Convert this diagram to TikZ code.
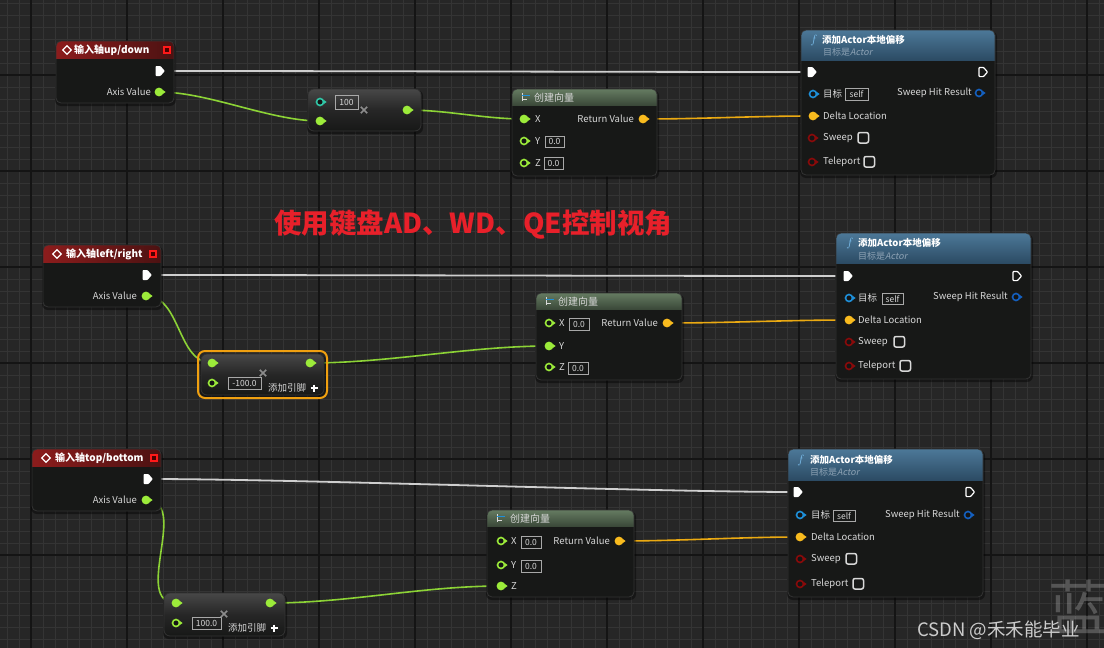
\documentclass[tikz,border=0pt]{standalone}
\usepackage{fontspec}
\setmainfont{Noto Sans CJK SC}
\newfontfamily\subfont{Noto Sans CJK SC}[AutoFakeSlant=0.2]
\usetikzlibrary{calc}
\definecolor{bg}{HTML}{262626}
\definecolor{gminorc}{HTML}{343434}
\definecolor{gmajorc}{HTML}{141414}
\definecolor{bodyc}{HTML}{171817}
\definecolor{lblc}{HTML}{D8D8D8}
\definecolor{fgreen}{HTML}{9CEB3A}
\definecolor{wgreen}{HTML}{8CD336}
\definecolor{tealc}{HTML}{30C8A8}
\definecolor{vyel}{HTML}{F9BB1E}
\definecolor{wyel}{HTML}{EBAA12}
\definecolor{objblue}{HTML}{1E90DA}
\definecolor{shrblue}{HTML}{1460C0}
\definecolor{boolred}{HTML}{8A0A0A}
\definecolor{execw}{HTML}{CFCFCF}
\definecolor{redheadA}{HTML}{8C1C1C}
\definecolor{redheadB}{HTML}{4C1212}
\definecolor{blueheadA}{HTML}{4C7898}
\definecolor{blueheadB}{HTML}{2C4B64}
\definecolor{greenheadA}{HTML}{657B61}
\definecolor{greenheadB}{HTML}{3B4939}
\definecolor{subc}{HTML}{8DA2B4}
\definecolor{boxc}{HTML}{A8A8A8}
\definecolor{titlered}{HTML}{E8202A}
\definecolor{selorange}{HTML}{F0A010}
\definecolor{fblue}{HTML}{7CC0EF}
\definecolor{pinbg}{HTML}{151515}
\tikzset{
  gminor/.style={gminorc, line width=1},
  gmajor/.style={gmajorc, line width=1.6},
  redhead/.style={left color=redheadA, right color=redheadB},
  bluehead/.style={top color=blueheadA, bottom color=blueheadB},
  greenhead/.style={top color=greenheadA, bottom color=greenheadB},
  lbl/.style={inner sep=0, text=lblc, font=\fontsize{9.5}{10}\selectfont},
  hdr/.style={inner sep=0, text=white, font=\bfseries\fontsize{10}{11}\selectfont},
  sub/.style={inner sep=0, text=subc, font=\fontsize{9}{10}\selectfont},
  val/.style={inner sep=0, text=lblc, font=\fontsize{8.5}{9}\selectfont},
  execwire/.style={execw, line width=1.8},
  greenwire/.style={wgreen, line width=1.6},
  yelwire/.style={wyel, line width=1.6},
}
\newcommand\BPnode[7]{%
  \fill[black,opacity=0.4,rounded corners=6] (#2-1,#3+1) rectangle (#4+2,#5+3);
  \node[inner sep=0, outer sep=0, minimum width=#4-#2, minimum height=#5-#3, anchor=north west, fill=bodyc, rounded corners=5] (#1) at (#2,#3) {};
  \begin{scope}\clip[rounded corners=5] (#2,#3) rectangle (#4,#5); \shade[#7] (#2,#3) rectangle (#4,#6); \end{scope}
  \draw[black!80, line width=0.8, rounded corners=5] (#2,#3) rectangle (#4,#5);
}
\newcommand\BPcompact[5]{%
  \fill[black,opacity=0.4,rounded corners=6] (#2-1,#3+1) rectangle (#4+2,#5+3);
  \node[inner sep=0, outer sep=0, minimum width=#4-#2, minimum height=#5-#3, anchor=north west, fill=bodyc, rounded corners=6] (#1) at (#2,#3) {};
  \shade[rounded corners=6, top color=black!72, bottom color=bodyc, middle color=black!85] (#2,#3) rectangle (#4,#5);
  \draw[black!80, line width=0.8, rounded corners=6] (#2,#3) rectangle (#4,#5);
}
\newcommand\BPpinF[2]{\begin{scope}[shift={(#1)}]
  \fill[#2] (0,0) circle (4.4);
  \fill[#2] (3.4,-2.3) -- (6.6,0) -- (3.4,2.3) -- cycle;
\end{scope}}
\newcommand\BPpinH[2]{\begin{scope}[shift={(#1)}]
  \fill[#2] (3.4,-2.3) -- (6.6,0) -- (3.4,2.3) -- cycle;
  \draw[#2, line width=1.6, fill=pinbg] (0,0) circle (3.5);
\end{scope}}
\newcommand\BPexecF[1]{\begin{scope}[shift={(#1)}]
  \fill[white, rounded corners=0.8] (-4.5,-5) -- (0.5,-5) -- (4.8,0) -- (0.5,5) -- (-4.5,5) -- cycle;
\end{scope}}
\newcommand\BPexecH[1]{\begin{scope}[shift={(#1)}]
  \draw[white, line width=1.2, rounded corners=0.8] (-4,-4.6) -- (0.5,-4.6) -- (4.5,0) -- (0.5,4.6) -- (-4,4.6) -- cycle;
\end{scope}}
\newcommand\BPbox[6]{%
  \draw[boxc, line width=0.7] (#2,#3) rectangle (#4,#5);
  \node[val] (#1) at ({(#2+#4)/2},{(#3+#5)/2+0.3}) {#6};}
\newcommand\BPcheck[3]{%
  \draw[lblc, line width=1.5, rounded corners=2] (#2,#3) rectangle (#2+10.5,#3+10.5);
  \coordinate (#1) at (#2+5,#3+5);}
\newcommand\BPdiamond[2]{\draw[white, line width=1.2] (#1,#2-4.2) -- (#1+4.2,#2) -- (#1,#2+4.2) -- (#1-4.2,#2) -- cycle;}
\newcommand\BPredsq[2]{\fill[red!90!white] (#1-4,#2-4) rectangle (#1+4,#2+4); \fill[black!70!red] (#1-2.2,#2-2.2) rectangle (#1+2.2,#2+2.2);}
\newcommand\BPcross[2]{\draw[black!45!white, line width=1.6] (#1-3.2,#2-3.2) -- (#1+3.2,#2+3.2) (#1-3.2,#2+3.2) -- (#1+3.2,#2-3.2);}
\newcommand\BPplus[2]{\draw[white, line width=1.6] (#1-3.5,#2) -- (#1+3.5,#2) (#1,#2-3.5) -- (#1,#2+3.5);}
\newcommand\BPicon[2]{%
  \draw[white!85!black, line width=1] (#1,#2-4) -- (#1,#2+4);
  \draw[objblue, line width=1.6] (#1,#2-1.5) -- (#1+8,#2-1.5);
  \draw[white!85!black, line width=1] (#1,#2+2) -- (#1+5,#2+2);}
\begin{document}
\begin{tikzpicture}[x=1pt,y=-1pt]
\useasboundingbox (0,0) rectangle (1104,648);
\fill[bg] (0,0) rectangle (1104,648);
\foreach \x in {7,19,...,1103} \draw[gminor] (\x,0) -- (\x,648);
\foreach \y in {3,15,...,647} \draw[gminor] (0,\y) -- (1104,\y);
\foreach \x in {31,127,...,1087} \draw[gmajor] (\x,0) -- (\x,648);
\foreach \y in {75,171,...,651} \draw[gmajor] (0,\y) -- (1104,\y);

% ---------- pin coordinates ----------
% group 1
\coordinate (e1o) at (160,71);  \coordinate (a1v) at (159,92);
\coordinate (m1a) at (320,102); \coordinate (m1b) at (320,121); \coordinate (m1o) at (407,110);
\coordinate (v1x) at (524,119); \coordinate (v1y) at (524,141); \coordinate (v1z) at (524,163); \coordinate (v1r) at (643,119);
\coordinate (a1ei) at (812,72); \coordinate (a1eo) at (983,72); \coordinate (a1t) at (813,94); \coordinate (a1s) at (979,93);
\coordinate (a1d) at (813,116); \coordinate (a1sw) at (812,138); \coordinate (a1tp) at (812,162);
% group 2
\coordinate (e2o) at (147,275); \coordinate (a2v) at (146,296);
\coordinate (d2a) at (212,363); \coordinate (d2b) at (212,383); \coordinate (d2o) at (310,363);
\coordinate (v2x) at (549,323); \coordinate (v2y) at (549,346); \coordinate (v2z) at (549,367); \coordinate (v2r) at (667,323);
\coordinate (a2ei) at (848,276); \coordinate (a2eo) at (1017,276); \coordinate (a2t) at (849,298); \coordinate (a2s) at (1016,297);
\coordinate (a2d) at (849,320); \coordinate (a2sw) at (849,342); \coordinate (a2tp) at (849,366);
% group 3
\coordinate (e3o) at (148,479); \coordinate (a3v) at (146,500);
\coordinate (d3a) at (176,603); \coordinate (d3b) at (176,623); \coordinate (d3o) at (270,603);
\coordinate (v3x) at (501,541); \coordinate (v3y) at (501,565); \coordinate (v3z) at (501,586); \coordinate (v3r) at (619,541);
\coordinate (a3ei) at (798,492); \coordinate (a3eo) at (970,492); \coordinate (a3t) at (800,515); \coordinate (a3s) at (968,515);
\coordinate (a3d) at (800,537); \coordinate (a3sw) at (800,559); \coordinate (a3tp) at (800,584);

% ---------- wires ----------
\draw[execwire] (e1o) .. controls +(200,0) and +(-200,0) .. (a1ei);
\draw[execwire] (e2o) .. controls +(200,0) and +(-200,0) .. (a2ei);
\draw[execwire] (e3o) .. controls +(150,0) and +(-150,0) .. (a3ei);
\draw[greenwire] (a1v) .. controls +(50,0) and +(-50,0) .. (m1b);
\draw[greenwire] (m1o) .. controls +(40,0) and +(-40,0) .. (v1x);
\draw[greenwire] (a2v) .. controls +(35,0) and +(-35,0) .. (d2a);
\draw[greenwire] (d2o) .. controls +(80,0) and +(-80,0) .. (v2y);
\draw[greenwire] (a3v) .. controls +(45,0) and +(-45,0) .. (d3a);
\draw[greenwire] (d3o) .. controls +(80,0) and +(-80,0) .. (v3z);
\draw[yelwire] (v1r) .. controls +(60,0) and +(-60,0) .. (a1d);
\draw[yelwire] (v2r) .. controls +(60,0) and +(-60,0) .. (a2d);
\draw[yelwire] (v3r) .. controls +(60,0) and +(-60,0) .. (a3d);

% ---------- group 1 nodes ----------
\BPnode{n1}{56}{41}{174}{103}{58}{redhead}
\BPdiamond{67}{50} \BPredsq{167}{50}
\node[hdr, anchor=west] (n1t) at (74,50) {输入轴up/down};
\BPexecF{e1o}
\BPpinF{a1v}{fgreen}
\node[lbl, anchor=east] (n1l) at (151,92) {Axis Value};

\BPcompact{m1}{308}{89}{421}{131}
\BPpinH{m1a}{tealc} \BPpinF{m1b}{fgreen} \BPpinF{m1o}{fgreen}
\BPbox{m1v}{335}{95}{358}{109}{100}
\BPcross{364}{110}

\BPnode{v1}{512}{89}{657}{176}{105}{greenhead}
\BPicon{522}{97}
\node[inner sep=0, text=lblc, font=\fontsize{10}{11}\selectfont, anchor=west] (v1t) at (534,97.5) {创建向量};
\BPpinF{v1x}{fgreen} \BPpinH{v1y}{fgreen} \BPpinH{v1z}{fgreen} \BPpinF{v1r}{vyel}
\node[lbl, anchor=west] (v1xl) at (535,119) {X};
\node[lbl, anchor=west] (v1yl) at (535,141) {Y};
\node[lbl, anchor=west] (v1zl) at (535,163) {Z};
\BPbox{v1yb}{545}{136}{564}{147}{0.0}
\BPbox{v1zb}{544}{157}{563}{169}{0.0}
\node[lbl, anchor=east] (v1rl) at (634,119) {Return Value};

\BPnode{a1}{801}{30}{995}{175}{60}{bluehead}
\node[inner sep=0, text=fblue, font=\fontsize{13}{13}\selectfont] (a1f) at (814,40) {$f$};
\node[hdr, anchor=west, font=\bfseries\fontsize{9.5}{10}\selectfont] (a1ti) at (822,39.5) {添加Actor本地偏移};
\node[sub, anchor=west] (a1su) at (823,52) {目标是{\subfont\itshape Actor}};
\BPexecF{a1ei} \BPexecH{a1eo}
\BPpinH{a1t}{objblue} \BPpinH{a1s}{shrblue} \BPpinF{a1d}{vyel} \BPpinH{a1sw}{boolred} \BPpinH{a1tp}{boolred}
\node[lbl, anchor=west] (a1tl) at (823,94) {目标};
\BPbox{a1tb}{845}{88}{868}{100}{self}
\node[lbl, anchor=east] (a1sl) at (972,93) {Sweep Hit Result};
\node[lbl, anchor=west] (a1dl) at (823,116) {Delta Location};
\node[lbl, anchor=west] (a1swl) at (823,138) {Sweep};
\BPcheck{a1swc}{858}{132.5}
\node[lbl, anchor=west] (a1tpl) at (823,162) {Teleport};
\BPcheck{a1tpc}{864}{156.5}

% ---------- group 2 nodes ----------
\BPnode{n2}{43}{245}{161}{307}{262}{redhead}
\BPdiamond{57}{254} \BPredsq{153}{254}
\node[hdr, anchor=west] (n2t) at (66,254) {输入轴left/right};
\BPexecF{e2o}
\BPpinF{a2v}{fgreen}
\node[lbl, anchor=east] (n2l) at (137,296) {Axis Value};

\BPcompact{d2}{201}{354}{324}{395}
\draw[selorange, line width=2, rounded corners=7] (198,351) rectangle (327,398);
\BPpinF{d2a}{fgreen} \BPpinF{d2o}{fgreen} \BPpinH{d2b}{fgreen}
\BPbox{d2v}{228}{377}{261}{389}{-100.0}
\BPcross{263}{373}
\node[lbl, anchor=west] (d2l) at (268,388) {添加引脚};
\BPplus{314}{388}

\BPnode{v2}{536}{293}{682}{380}{309}{greenhead}
\BPicon{546}{301}
\node[inner sep=0, text=lblc, font=\fontsize{10}{11}\selectfont, anchor=west] (v2t) at (558,302) {创建向量};
\BPpinH{v2x}{fgreen} \BPpinF{v2y}{fgreen} \BPpinH{v2z}{fgreen} \BPpinF{v2r}{vyel}
\node[lbl, anchor=west] (v2xl) at (559,323) {X};
\node[lbl, anchor=west] (v2yl) at (559,346) {Y};
\node[lbl, anchor=west] (v2zl) at (559,367) {Z};
\BPbox{v2xb}{569}{318}{589}{330}{0.0}
\BPbox{v2zb}{568}{362}{588}{374}{0.0}
\node[lbl, anchor=east] (v2rl) at (658,323) {Return Value};

\BPnode{a2}{836}{233}{1031}{379}{263}{bluehead}
\node[inner sep=0, text=fblue, font=\fontsize{13}{13}\selectfont] (a2f) at (850,243) {$f$};
\node[hdr, anchor=west, font=\bfseries\fontsize{9.5}{10}\selectfont] (a2ti) at (858,242.5) {添加Actor本地偏移};
\node[sub, anchor=west] (a2su) at (858,256) {目标是{\subfont\itshape Actor}};
\BPexecF{a2ei} \BPexecH{a2eo}
\BPpinH{a2t}{objblue} \BPpinH{a2s}{shrblue} \BPpinF{a2d}{vyel} \BPpinH{a2sw}{boolred} \BPpinH{a2tp}{boolred}
\node[lbl, anchor=west] (a2tl) at (858,298) {目标};
\BPbox{a2tb}{882}{293}{903}{304}{self}
\node[lbl, anchor=east] (a2sl) at (1008,297) {Sweep Hit Result};
\node[lbl, anchor=west] (a2dl) at (858,320) {Delta Location};
\node[lbl, anchor=west] (a2swl) at (858,342) {Sweep};
\BPcheck{a2swc}{894}{336.5}
\node[lbl, anchor=west] (a2tpl) at (858,366) {Teleport};
\BPcheck{a2tpc}{900}{360.5}

% ---------- group 3 nodes ----------
\BPnode{n3}{32}{449}{161}{511}{466}{redhead}
\BPdiamond{46}{458} \BPredsq{154}{458}
\node[hdr, anchor=west] (n3t) at (55,458) {输入轴top/bottom};
\BPexecF{e3o}
\BPpinF{a3v}{fgreen}
\node[lbl, anchor=east] (n3l) at (137,500) {Axis Value};

\BPcompact{d3}{164}{593}{285}{636}
\BPpinF{d3a}{fgreen} \BPpinF{d3o}{fgreen} \BPpinH{d3b}{fgreen}
\BPbox{d3v}{192}{617}{221}{629}{100.0}
\BPcross{224}{614}
\node[lbl, anchor=west] (d3l) at (228,628) {添加引脚};
\BPplus{274}{628}

\BPnode{v3}{487}{510}{634}{597}{526}{greenhead}
\BPicon{497}{518}
\node[inner sep=0, text=lblc, font=\fontsize{10}{11}\selectfont, anchor=west] (v3t) at (510,519) {创建向量};
\BPpinH{v3x}{fgreen} \BPpinH{v3y}{fgreen} \BPpinF{v3z}{fgreen} \BPpinF{v3r}{vyel}
\node[lbl, anchor=west] (v3xl) at (511,541) {X};
\node[lbl, anchor=west] (v3yl) at (511,565) {Y};
\node[lbl, anchor=west] (v3zl) at (511,586) {Z};
\BPbox{v3xb}{521}{536}{541}{548}{0.0}
\BPbox{v3yb}{521}{560}{541}{572}{0.0}
\node[lbl, anchor=east] (v3rl) at (610,541) {Return Value};

\BPnode{a3}{788}{449}{983}{597}{480}{bluehead}
\node[inner sep=0, text=fblue, font=\fontsize{13}{13}\selectfont] (a3f) at (801,460) {$f$};
\node[hdr, anchor=west, font=\bfseries\fontsize{9.5}{10}\selectfont] (a3ti) at (810,459.5) {添加Actor本地偏移};
\node[sub, anchor=west] (a3su) at (810,472) {目标是{\subfont\itshape Actor}};
\BPexecF{a3ei} \BPexecH{a3eo}
\BPpinH{a3t}{objblue} \BPpinH{a3s}{shrblue} \BPpinF{a3d}{vyel} \BPpinH{a3sw}{boolred} \BPpinH{a3tp}{boolred}
\node[lbl, anchor=west] (a3tl) at (811,515) {目标};
\BPbox{a3tb}{833}{510}{855}{521}{self}
\node[lbl, anchor=east] (a3sl) at (960,515) {Sweep Hit Result};
\node[lbl, anchor=west] (a3dl) at (811,537) {Delta Location};
\node[lbl, anchor=west] (a3swl) at (811,559) {Sweep};
\BPcheck{a3swc}{846}{553.5}
\node[lbl, anchor=west] (a3tpl) at (811,584) {Teleport};
\BPcheck{a3tpc}{853}{578.5}

% ---------- annotations ----------
\node[inner sep=0, anchor=west, text=titlered, font=\bfseries\fontsize{27.5}{28}\selectfont] (title) at (274,225) {使用键盘AD、WD、QE控制视角};
\begin{scope}
\clip (0,0) rectangle (1104,648);
\node[inner sep=0, anchor=west, text=white, opacity=0.22, font=\fontsize{60}{60}\selectfont] (wm) at (1048,607) {蓝};
\end{scope}
\node[inner sep=0, anchor=west, text=white!80!black, font=\fontsize{18.5}{19}\selectfont] (csdn) at (917,630) {CSDN @禾禾能毕业};
\end{tikzpicture}
\end{document}
